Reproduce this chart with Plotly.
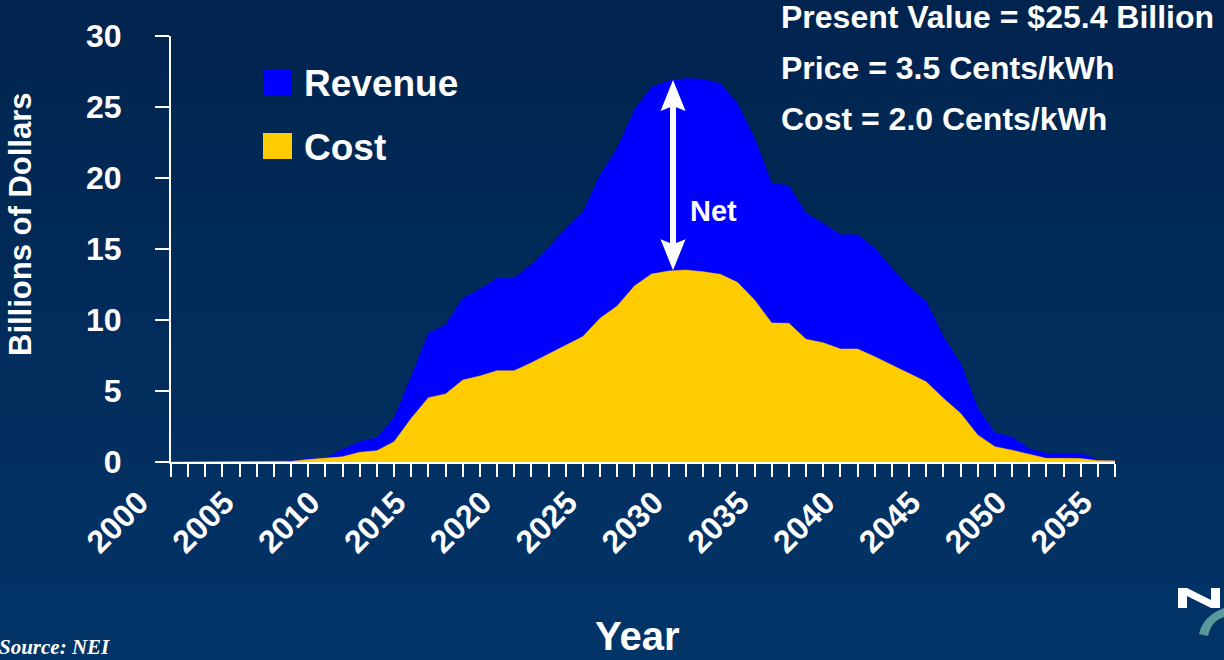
import plotly.graph_objects as go

# ---------------- data ----------------
years = list(range(2000, 2056))
revenue = [0, 0, 0, 0, 0, 0, 0, 0.1, 0.26, 0.26,
           0.9, 1.43, 1.71, 3.08, 6.0, 9.06, 9.65, 11.53, 12.16, 12.94,
           12.94, 13.9, 15.1, 16.4, 17.6, 20.2, 22.1, 24.8, 26.4, 26.85,
           27.0, 26.95, 26.65, 25.25, 22.8, 19.63, 19.46, 17.5, 16.8, 16.0,
           16.0, 15.05, 13.64, 12.35, 11.3, 8.82, 6.95, 3.8, 2.05, 1.76,
           0.94, 0.61, 0.61, 0.61, 0.17, 0.15]
cost = [0, 0, 0, 0, 0, 0, 0, 0.05, 0.18, 0.26,
        0.37, 0.68, 0.80, 1.43, 3.08, 4.53, 4.79, 5.77, 6.06, 6.43,
        6.43, 6.99, 7.62, 8.24, 8.83, 10.12, 10.99, 12.39, 13.24, 13.45,
        13.52, 13.40, 13.22, 12.65, 11.41, 9.79, 9.77, 8.64, 8.40, 7.96,
        7.96, 7.42, 6.83, 6.2, 5.65, 4.49, 3.43, 1.9, 1.08, 0.83,
        0.52, 0.26, 0.26, 0.24, 0.1, 0.09]
y_ticks = [0, 5, 10, 15, 20, 25, 30]
x_tick_years = [2000, 2005, 2010, 2015, 2020, 2025, 2030, 2035, 2040, 2045, 2050, 2055]
x_tick_labels = [str(v) for v in x_tick_years]
legend_labels = ["Revenue", "Cost"]
info_lines = ["Present Value = $25.4 Billion", "Price = 3.5 Cents/kWh", "Cost = 2.0 Cents/kWh"]

# Net arrow annotation placement (data coordinates)
net_year = 2029.25
net_top = 26.9
net_bottom = 13.5

# ---------------- layout helpers ----------------
W, H = 1224, 660
ML, MR, MT, MB = 171, 109, 36, 198
PW, PH = W - ML - MR, H - MT - MB
X0, X1, Y0, Y1 = 2000, 2055, 0, 30


def px(x):
    return (x - ML) / PW


def py(y):
    return (H - MB - y) / PH


BLUE = "#0000ff"
YELLOW = "#ffcc00"
FONT = "Liberation Sans, Arial, sans-serif"

fig = go.Figure()
fig.add_trace(go.Scatter(x=years, y=revenue, fill="tozeroy", mode="lines",
                         line=dict(width=0.5, color=BLUE), fillcolor=BLUE,
                         name=legend_labels[0], showlegend=False, hoverinfo="skip"))
fig.add_trace(go.Scatter(x=years, y=cost, fill="tozeroy", mode="lines",
                         line=dict(width=0.5, color=YELLOW), fillcolor=YELLOW,
                         name=legend_labels[1], showlegend=False, hoverinfo="skip"))

shapes = []
# background gradient
top_c = (1, 36, 78)
bot_c = (2, 52, 104)
n = 44
for i in range(n):
    t = i / (n - 1)
    c = tuple(round(top_c[k] + (bot_c[k] - top_c[k]) * t) for k in range(3))
    y_a = H * i / n
    y_b = H * (i + 1) / n + 1
    shapes.append(dict(type="rect", xref="paper", yref="paper", layer="below",
                       x0=px(-2), x1=px(W + 2), y0=py(y_b), y1=py(y_a),
                       line=dict(width=0), fillcolor="rgb(%d,%d,%d)" % c))

# legend squares
shapes.append(dict(type="rect", xref="paper", yref="paper", x0=px(263), x1=px(292),
                   y0=py(96), y1=py(70), fillcolor=BLUE, line=dict(width=0)))
shapes.append(dict(type="rect", xref="paper", yref="paper", x0=px(263), x1=px(292),
                   y0=py(159), y1=py(133), fillcolor=YELLOW, line=dict(width=0)))

# double arrow (Net)
yr_px = PW / (X1 - X0)
val_px = PH / (Y1 - Y0)
hl = 31 / val_px
hw = 12.5 / yr_px
notch = 5 / val_px
X = net_year
shapes.append(dict(type="line", xref="x", yref="y", x0=X, x1=X,
                   y0=net_top - hl + notch + 0.1, y1=net_bottom + hl - notch - 0.1,
                   line=dict(color="white", width=6)))
shapes.append(dict(type="path", xref="x", yref="y", fillcolor="white", line=dict(width=0),
                   path=f"M {X},{net_top} L {X + hw},{net_top - hl} L {X},{net_top - hl + notch} "
                        f"L {X - hw},{net_top - hl} Z"))
shapes.append(dict(type="path", xref="x", yref="y", fillcolor="white", line=dict(width=0),
                   path=f"M {X},{net_bottom} L {X + hw},{net_bottom + hl} L {X},{net_bottom + hl - notch} "
                        f"L {X - hw},{net_bottom + hl} Z"))

# logo swoosh (partial, bottom right)
shapes.append(dict(type="path", xref="paper", yref="paper", fillcolor="#5a9a9c", line=dict(width=0),
                   path=f"M {px(1199)},{py(634)} Q {px(1203)},{py(616)} {px(1224)},{py(608)} "
                        f"L {px(1224)},{py(617)} Q {px(1211)},{py(621)} {px(1208)},{py(636)} Z"))
# logo "N" (partial)
shapes.append(dict(type="path", xref="paper", yref="paper", fillcolor="white", line=dict(width=0),
                   path=f"M {px(1178)},{py(608)} L {px(1178)},{py(588)} L {px(1187)},{py(588)} "
                        f"L {px(1211)},{py(600)} L {px(1211)},{py(588)} L {px(1220)},{py(588)} "
                        f"L {px(1220)},{py(608)} L {px(1211)},{py(608)} L {px(1187)},{py(596)} "
                        f"L {px(1187)},{py(608)} Z"))

annotations = []
for label, yc in zip(legend_labels, [84, 147]):
    annotations.append(dict(xref="paper", yref="paper", x=px(302), y=py(yc), text=label,
                            showarrow=False, xanchor="left", yanchor="middle",
                            font=dict(family=FONT, size=37, color="white", weight="bold")))
for line, yc in zip(info_lines, [17, 68, 119]):
    annotations.append(dict(xref="paper", yref="paper", x=px(779), y=py(yc), text=line,
                            showarrow=False, xanchor="left", yanchor="middle",
                            font=dict(family=FONT, size=32, color="white", weight="bold")))
annotations.append(dict(xref="x", yref="y", x=X + 0.85, y=17.7, text="Net", showarrow=False,
                        xanchor="left", yanchor="middle",
                        font=dict(family=FONT, size=29, color="white", weight="bold")))
annotations.append(dict(xref="paper", yref="paper", x=px(20), y=py(224), text="Billions of Dollars",
                        textangle=-90, showarrow=False, xanchor="center", yanchor="middle",
                        font=dict(family=FONT, size=31, color="white", weight="bold")))
annotations.append(dict(xref="paper", yref="paper", x=px(637), y=py(636), text="Year",
                        showarrow=False, xanchor="center", yanchor="middle",
                        font=dict(family=FONT, size=40, color="white", weight="bold")))
annotations.append(dict(xref="paper", yref="paper", x=px(-3), y=py(647), text="Source: NEI",
                        showarrow=False, xanchor="left", yanchor="middle",
                        font=dict(family="Liberation Serif, Times New Roman, serif", size=21,
                                  color="white", weight="bold", style="italic")))

fig.update_layout(
    width=W, height=H,
    margin=dict(l=ML, r=MR, t=MT, b=MB, pad=0),
    paper_bgcolor="rgb(2,44,90)",
    plot_bgcolor="rgba(0,0,0,0)",
    showlegend=False,
    hovermode=False,
    shapes=shapes,
    annotations=annotations,
    xaxis=dict(range=[X0, X1], tickmode="array", tickvals=x_tick_years, ticktext=x_tick_labels,
               tickangle=-45, ticks="outside", ticklen=13, tickwidth=2, tickcolor="white",
               showline=True, linecolor="white", linewidth=2, showgrid=False, zeroline=False,
               tickfont=dict(family=FONT, size=32, color="white", weight="bold"),
               minor=dict(dtick=1, tick0=2000, ticks="outside", ticklen=13, tickwidth=2,
                          tickcolor="white", showgrid=False),
               ticklabelshift=-32, ticklabelstandoff=-6),
    yaxis=dict(range=[Y0, Y1], tickmode="array", tickvals=y_ticks,
               ticks="outside", ticklen=14, tickwidth=2, tickcolor="white",
               showline=True, linecolor="white", linewidth=2, showgrid=False, zeroline=False,
               tickfont=dict(family=FONT, size=32, color="white", weight="bold"),
               ticklabelstandoff=27),
)

fig.write_html("out.html", config={"displayModeBar": False, "staticPlot": True},
               post_script="document.body.style.margin='0';document.body.style.overflow='hidden';")
